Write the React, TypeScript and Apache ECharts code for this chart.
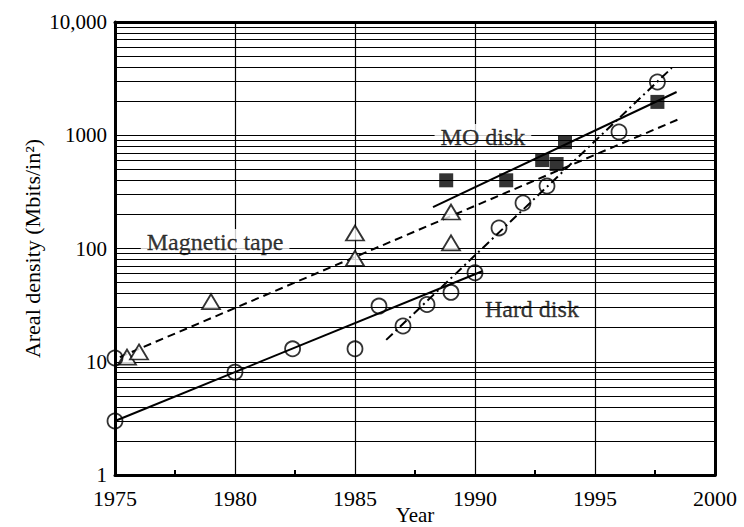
import React, { useEffect, useRef } from "react";
import * as echarts from "echarts";

// ---- data ----
const yDecades = [1, 10, 100, 1000, 10000];
const minorGridValues = [
  2, 3, 4, 5, 6, 7, 8, 9,
  20, 30, 40, 50, 60, 70, 80, 90,
  200, 300, 400, 500, 600, 700, 800, 900,
  2000, 3000, 4000, 5000, 6000, 7000, 8000, 9000,
];

const tapeYears = [1975.5, 1976, 1979, 1985, 1985, 1989, 1989];
const tapeValues = [11, 12.2, 34, 137, 82, 210, 112];
const tapeFitYears = [1975.2, 1998.5];
const tapeFitValues = [11, 1390];

const hardYears = [1975, 1975, 1980, 1982.4, 1985, 1986, 1987, 1988, 1989, 1990, 1991, 1992, 1993, 1996, 1997.6];
const hardValues = [3, 10.8, 8.1, 13, 13, 31, 20.7, 32, 41, 61, 152, 252, 356, 1070, 2950];
const hardFit1Years = [1975, 1990.3];
const hardFit1Values = [3, 63];
const hardFit2Years = [1986.3, 1998.2];
const hardFit2Values = [15.6, 3930];

const moYears = [1988.8, 1991.3, 1992.8, 1993.4, 1993.75, 1997.6];
const moValues = [400, 400, 604, 557, 870, 1970];
const moFitYears = [1988.25, 1998.4];
const moFitValues = [232, 2410];

const labelNames = ["Magnetic tape", "MO disk", "Hard disk"];
const labelYears = [1979.17, 1990.33, 1992.37];
const labelValues = [114, 966, 29.2];

const FONT = "'Liberation Serif', 'Times New Roman', serif";

function pairs(xs: number[], ys: number[]) {
  return xs.map((x, i) => [x, ys[i]]);
}

export default function App() {
  const ref = useRef<HTMLDivElement>(null);
  useEffect(() => {
    if (!ref.current) return;
    const chart = echarts.init(ref.current, undefined, { renderer: "svg" });
    const frameLine = { show: true, lineStyle: { color: "#000", width: 3 } };
    const option: any = {
      animation: false,
      backgroundColor: "#fff",
      grid: {
        left: 115,
        right: 29,
        top: 22,
        bottom: 52,
        show: false,
        containLabel: false,
        outerBoundsMode: "none",
      },
      xAxis: [
        {
          type: "value",
          min: 1975,
          max: 2000,
          interval: 5,
          name: "Year",
          nameLocation: "middle",
          nameGap: 29,
          nameMoveOverlap: false,
          nameTextStyle: { fontFamily: FONT, fontSize: 21, color: "#000", lineHeight: 22 },
          axisLine: frameLine,
          axisTick: { show: false },
          minorTick: { show: true, splitNumber: 2, length: -5, lineStyle: { color: "#000", width: 2 } },
          axisLabel: {
            fontFamily: FONT,
            fontSize: 22,
            lineHeight: 20,
            color: "#000",
            margin: 13,
            formatter: (v: number) => String(v),
          },
          splitLine: { show: true, lineStyle: { color: "#000", width: 1.2 } },
        },
        {
          type: "value",
          position: "top",
          min: 1975,
          max: 2000,
          interval: 5,
          axisLine: frameLine,
          axisTick: { show: false },
          axisLabel: { show: false },
          splitLine: { show: false },
        },
      ],
      yAxis: [
        {
          type: "log",
          logBase: 10,
          min: yDecades[0],
          max: yDecades[yDecades.length - 1],
          name: "Areal density (Mbits/in²)",
          nameLocation: "middle",
          nameGap: 72,
          nameMoveOverlap: false,
          nameTextStyle: { fontFamily: FONT, fontSize: 22, color: "#000" },
          axisLine: frameLine,
          axisTick: { show: false },
          axisLabel: {
            fontFamily: FONT,
            fontSize: 21,
            lineHeight: 16,
            color: "#000",
            margin: 8,
            formatter: (v: number) => (v === 10000 ? "10,000" : String(v)),
          },
          splitLine: { show: true, lineStyle: { color: "#000", width: 1.2 } },
        },
        {
          type: "log",
          logBase: 10,
          position: "right",
          min: yDecades[0],
          max: yDecades[yDecades.length - 1],
          axisLine: frameLine,
          axisTick: { show: false },
          axisLabel: { show: false },
          splitLine: { show: false },
        },
      ],
      series: [
        {
          type: "line",
          name: "grid",
          data: [[1975, 1]],
          symbol: "none",
          silent: true,
          z: 1,
          lineStyle: { width: 0 },
          markLine: {
            silent: true,
            symbol: ["none", "none"],
            label: { show: false },
            lineStyle: { color: "#000", width: 1.2, type: "solid" },
            emphasis: { disabled: true },
            data: minorGridValues.map((v) => ({ yAxis: v })),
          },
        },
        {
          type: "scatter",
          name: "labels",
          z: 3,
          symbolSize: 0,
          silent: true,
          data: labelYears.map((x, i) => [x, labelValues[i], labelNames[i]]),
          label: {
            show: true,
            position: "inside",
            formatter: (p: any) => p.data[2],
            fontFamily: FONT,
            fontSize: 24,
            color: "#000",
            textBorderColor: "#000",
            textBorderWidth: 0.3,
            backgroundColor: "#fff",
            padding: [1, 6, 1, 6],
          },
        },
        {
          type: "line",
          name: "tape fit",
          z: 4,
          data: pairs(tapeFitYears, tapeFitValues),
          symbol: "none",
          lineStyle: { color: "#000", width: 2, type: [8, 5] },
        },
        {
          type: "line",
          name: "hard fit 1",
          z: 4,
          data: pairs(hardFit1Years, hardFit1Values),
          symbol: "none",
          lineStyle: { color: "#000", width: 2 },
        },
        {
          type: "line",
          name: "hard fit 2",
          z: 4,
          data: pairs(hardFit2Years, hardFit2Values),
          symbol: "none",
          lineStyle: { color: "#000", width: 2, type: [9, 4, 2, 4] },
        },
        {
          type: "line",
          name: "mo fit",
          z: 4,
          data: pairs(moFitYears, moFitValues),
          symbol: "none",
          lineStyle: { color: "#000", width: 2 },
        },
        {
          type: "scatter",
          name: "Magnetic tape",
          z: 5,
          symbol: "triangle",
          symbolSize: [18, 15],
          itemStyle: { color: "#fff", borderColor: "#000", borderWidth: 1.8 },
          data: pairs(tapeYears, tapeValues),
        },
        {
          type: "scatter",
          name: "Hard disk",
          z: 5,
          symbol: "circle",
          symbolSize: 15,
          itemStyle: { color: "rgba(255,255,255,0)", borderColor: "#000", borderWidth: 1.8 },
          data: pairs(hardYears, hardValues),
        },
        {
          type: "scatter",
          name: "MO disk",
          z: 5,
          symbol: "rect",
          symbolSize: 14,
          itemStyle: { color: "#000" },
          data: pairs(moYears, moValues),
        },
      ],
    };
    chart.setOption(option);
    return () => chart.dispose();
  }, []);
  return (
    <div
      ref={ref}
      style={{ position: "fixed", left: 0, top: 0, width: 744, height: 527, background: "#fff" }}
    />
  );
}
